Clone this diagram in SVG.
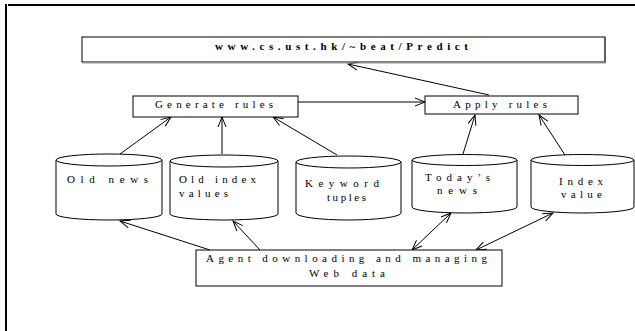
<svg xmlns="http://www.w3.org/2000/svg" width="635" height="331" viewBox="0 0 635 331">
  <style>
    .box { fill: #fff; stroke: #000; stroke-width: 1; }
    .cyl { fill: #fff; stroke: #000; stroke-width: 1; }
    .lbl { font-family: "Liberation Serif", "Times New Roman", serif; font-size: 11px; fill: #000; }
    .url { font-weight: bold; }
    .edge { fill: none; stroke: #000; stroke-width: 1; }
    .frame { stroke: #000; stroke-width: 2; }
  </style>
  <defs>
    <marker id="head" markerUnits="userSpaceOnUse" markerWidth="14" markerHeight="12" refX="0" refY="0" viewBox="-12 -6 14 12" orient="auto-start-reverse" overflow="visible">
      <path d="M-10,-4 L0,0 L-10,4" fill="none" stroke="#000" stroke-width="1"/>
    </marker>
  </defs>

  <rect width="635" height="331" fill="#fff"/>

  <!-- page frame -->
  <line class="frame" x1="8" y1="5" x2="635" y2="5"/>
  <line class="frame" x1="6" y1="4" x2="6" y2="331"/>

  <!-- connectors -->
  <g id="connectors">
    <line class="edge" x1="120" y1="154" x2="171" y2="117" marker-end="url(#head)"/>
    <line class="edge" x1="222" y1="154" x2="222" y2="117" marker-end="url(#head)"/>
    <line class="edge" x1="337" y1="155" x2="273" y2="117" marker-end="url(#head)"/>
    <line class="edge" x1="298" y1="102" x2="425" y2="102" marker-end="url(#head)"/>
    <line class="edge" x1="489" y1="95" x2="348" y2="64" marker-end="url(#head)"/>
    <line class="edge" x1="463" y1="154" x2="475" y2="115" marker-end="url(#head)"/>
    <line class="edge" x1="565" y1="155" x2="539" y2="115" marker-end="url(#head)"/>
    <line class="edge" x1="210" y1="250" x2="120" y2="221" marker-end="url(#head)"/>
    <line class="edge" x1="260" y1="250" x2="233" y2="221" marker-end="url(#head)"/>
    <line class="edge" x1="412" y1="250" x2="451" y2="213" marker-start="url(#head)" marker-end="url(#head)"/>
    <line class="edge" x1="476" y1="250" x2="553" y2="213" marker-start="url(#head)" marker-end="url(#head)"/>
  </g>

  <!-- site box -->
  <g id="site">
    <rect class="box" x="82" y="37" width="523" height="25"/>
    <line x1="605" y1="37" x2="605" y2="63" stroke="#555" stroke-width="1.5"/>
    <line x1="82" y1="63" x2="606" y2="63" stroke="#999" stroke-width="1"/>
    <text class="lbl url" x="215" y="50" textLength="253" lengthAdjust="spacing">www.cs.ust.hk/~beat/Predict</text>
  </g>

  <g id="generate">
    <rect class="box" x="133" y="96" width="165" height="21"/>
    <text class="lbl" x="155" y="108" textLength="118" lengthAdjust="spacing">Generate rules</text>
  </g>

  <g id="apply">
    <rect class="box" x="425" y="96" width="153" height="18"/>
    <text class="lbl" x="453" y="108" textLength="94" lengthAdjust="spacing">Apply rules</text>
  </g>

  <!-- data stores -->
  <g id="old-news">
    <path class="cyl" d="M56,160 L56,214 A53,6 0 0 0 162,214 L162,160"/>
    <ellipse class="cyl" cx="109" cy="160" rx="53" ry="6"/>
    <text class="lbl" x="67" y="183" textLength="81" lengthAdjust="spacing">Old news</text>
  </g>

  <g id="old-index">
    <path class="cyl" d="M170,161 L170,214 A54,6 0 0 0 278,214 L278,161"/>
    <ellipse class="cyl" cx="224" cy="161" rx="54" ry="6"/>
    <text class="lbl" x="179" y="183" textLength="77" lengthAdjust="spacing">Old index</text>
    <text class="lbl" x="179" y="197" textLength="49" lengthAdjust="spacing">values</text>
  </g>

  <g id="keywords">
    <path class="cyl" d="M296,162 L296,213 A52.5,7 0 0 0 401,213 L401,162"/>
    <ellipse class="cyl" cx="348.5" cy="162" rx="52.5" ry="6"/>
    <text class="lbl" x="305" y="187" textLength="74" lengthAdjust="spacing">Keyword</text>
    <text class="lbl" x="327" y="201" textLength="39" lengthAdjust="spacing">tuples</text>
  </g>

  <g id="todays-news">
    <path class="cyl" d="M412,160 L412,207 A52.5,6 0 0 0 517,207 L517,160"/>
    <ellipse class="cyl" cx="464.5" cy="160" rx="52.5" ry="5.5"/>
    <text class="lbl" x="425" y="181" textLength="65" lengthAdjust="spacing">Today’s</text>
    <text class="lbl" x="437" y="194" textLength="40" lengthAdjust="spacing">news</text>
  </g>

  <g id="index-value">
    <path class="cyl" d="M531,160 L531,207 A51.5,6 0 0 0 634,207 L634,160"/>
    <ellipse class="cyl" cx="582.5" cy="160" rx="51.5" ry="5.5"/>
    <text class="lbl" x="559" y="185" textLength="44" lengthAdjust="spacing">Index</text>
    <text class="lbl" x="561" y="198" textLength="41" lengthAdjust="spacing">value</text>
  </g>

  <g id="agent">
    <rect class="box" x="196" y="250" width="306" height="36"/>
    <text class="lbl" x="206" y="262" textLength="281" lengthAdjust="spacing">Agent downloading and managing</text>
    <text class="lbl" x="309" y="277" textLength="76" lengthAdjust="spacing">Web data</text>
  </g>
</svg>
